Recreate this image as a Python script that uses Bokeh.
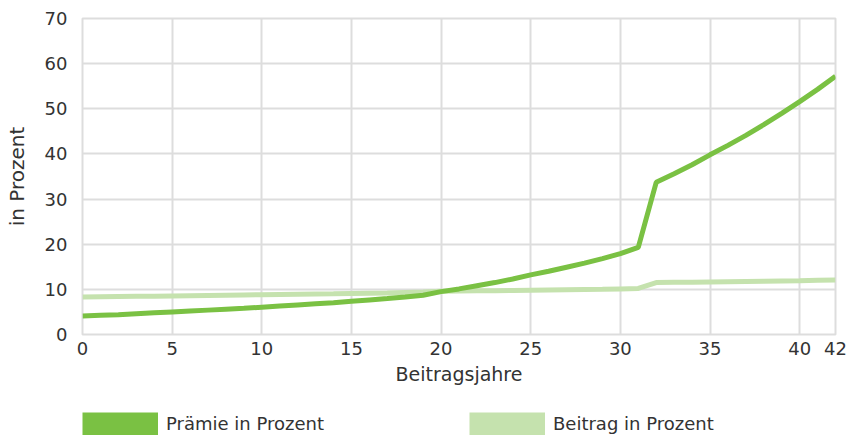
from bokeh.plotting import figure
from bokeh.layouts import column
from bokeh.models import (Range1d, FixedTicker, Legend, LegendItem,
                          ColumnDataSource)
from bokeh.embed import file_html
from bokeh.resources import INLINE

# ---- data -------------------------------------------------------------
jahre = list(range(0, 43))
praemie = [4.1, 4.25, 4.4, 4.6, 4.8, 5.0, 5.2, 5.4, 5.6, 5.8,
           6.05, 6.3, 6.55, 6.8, 7.05, 7.35, 7.65, 7.95, 8.3, 8.7,
           9.5, 10.1, 10.8, 11.5, 12.3, 13.2, 14.0, 14.9, 15.8, 16.8,
           17.9, 19.3, 33.7, 35.6, 37.6, 39.8, 41.9, 44.1, 46.5, 49.0,
           51.6, 54.3, 57.2]
beitrag = [8.3, 8.35, 8.4, 8.45, 8.5, 8.55, 8.6, 8.65, 8.7, 8.75,
           8.8, 8.85, 8.9, 8.95, 9.0, 9.1, 9.15, 9.2, 9.3, 9.4,
           9.6, 9.65, 9.7, 9.7, 9.75, 9.8, 9.85, 9.9, 9.95, 10.0,
           10.1, 10.2, 11.5, 11.55, 11.6, 11.65, 11.7, 11.75, 11.8, 11.85,
           11.9, 12.0, 12.1]
x_ticks = [0, 5, 10, 15, 20, 25, 30, 35, 40, 42]
y_ticks = [0, 10, 20, 30, 40, 50, 60, 70]
series_names = ["Prämie in Prozent", "Beitrag in Prozent"]
x_title = "Beitragsjahre"
y_title = "in Prozent"

# ---- style ------------------------------------------------------------
FONT = "DejaVu Sans"
TXT = "#333333"
GRID = "#dddddd"
C_PRAEMIE = "#7ac143"
C_BEITRAG = "#c5e2ae"

W, H_MAIN, H_LEG = 847, 400, 35
p = figure(width=W, height=H_MAIN, output_backend="svg",
           toolbar_location=None,
           x_range=Range1d(0, 42), y_range=Range1d(0, 70),
           min_border_left=82, min_border_right=12, min_border_top=18,
           min_border_bottom=66)
p.background_fill_color = "white"
p.border_fill_color = "white"
p.outline_line_color = GRID
p.outline_line_width = 2


def style_axis(ax):
    ax.axis_line_color = None
    ax.major_tick_line_color = None
    ax.minor_tick_line_color = None
    ax.major_tick_out = 0
    ax.major_tick_in = 0
    ax.major_label_text_font = FONT
    ax.major_label_text_font_size = "18px"
    ax.major_label_text_color = TXT
    ax.axis_label_text_font = FONT
    ax.axis_label_text_color = TXT
    ax.axis_label_text_font_style = "normal"


xa = p.xaxis[0]
style_axis(xa)
xa.ticker = FixedTicker(ticks=x_ticks)
xa.major_label_standoff = 7
xa.axis_label = x_title
xa.axis_label_text_font_size = "19px"
xa.axis_label_standoff = 5

ya = p.yaxis[0]
style_axis(ya)
ya.ticker = FixedTicker(ticks=y_ticks)
ya.major_label_standoff = 15
ya.axis_label = y_title
ya.axis_label_text_font_size = "20px"
ya.axis_label_standoff = 13

p.xgrid[0].grid_line_color = GRID
p.xgrid[0].grid_line_width = 2
p.ygrid[0].grid_line_color = GRID
p.ygrid[0].grid_line_width = 2

src = ColumnDataSource(dict(x=jahre, praemie=praemie, beitrag=beitrag))
p.line("x", "beitrag", source=src, line_color=C_BEITRAG, line_width=5)
p.line("x", "praemie", source=src, line_color=C_PRAEMIE, line_width=5)

# ---- legend strip -----------------------------------------------------
# The same series are drawn here, far outside the strip's visible range,
# only so that the legend gets its broad colour swatches.
q = figure(width=W, height=H_LEG, output_backend="svg",
           toolbar_location=None, x_range=Range1d(-2, -1),
           y_range=Range1d(-2, -1), min_border=0,
           x_axis_location=None, y_axis_location=None)
q.outline_line_color = None
q.grid.visible = False
q.background_fill_color = "white"
q.border_fill_color = "white"

r1 = q.line("x", "praemie", source=src, line_color=C_PRAEMIE, line_width=23)
r2 = q.line("x", "beitrag", source=src, line_color=C_BEITRAG, line_width=23)

lg = Legend(items=[LegendItem(label=series_names[0], renderers=[r1]),
                   LegendItem(label=series_names[1], renderers=[r2])],
            location=(0, 0), orientation="horizontal",
            glyph_width=76, glyph_height=23, label_standoff=8, spacing=145,
            padding=0, margin=0, border_line_color=None,
            background_fill_alpha=0, label_text_font=FONT,
            label_text_font_size="18px", label_text_color=TXT)
q.add_layout(lg, "center")

layout = column(p, q, spacing=0)
open("out.html", "w").write(file_html(layout, INLINE))
